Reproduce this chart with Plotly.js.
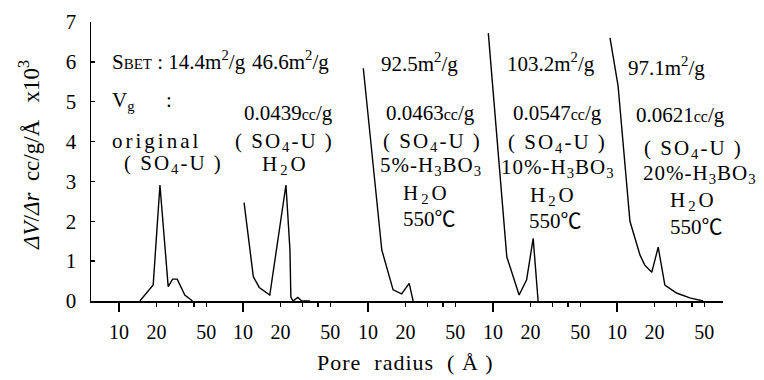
<!DOCTYPE html>
<html>
<head>
<meta charset="utf-8">
<script src="https://cdn.plot.ly/plotly-3.0.1.min.js"></script>
<style>html,body{margin:0;padding:0;background:#fff;}#chart{width:764px;height:380px;}</style>
</head>
<body>
<div id="chart"></div>
<script>
// ---- data (pore radius in Å, ΔV/Δr ×10^3 cc/g/Å) ----
const originalR   = [14.7, 18.8, 21.3, 24.8, 26.9, 29.3, 33.7, 38.9];
const originalV   = [0, 0.4, 2.91, 0.36, 0.55, 0.55, 0.15, 0];
const waterR      = [10.2, 12.1, 13.5, 16.4, 22.1, 23.8, 24.2, 25.2, 27.5, 29.6, 34.4];
const waterV      = [2.47, 0.61, 0.34, 0.15, 2.91, 1.28, 0.1, 0, 0.09, 0, 0];
const boric5R     = [9.17, 12.9, 15.9, 18.6, 21.4, 23.0];
const boric5V     = [5.84, 1.28, 0.28, 0.18, 0.44, 0];
const boric10R    = [9.17, 12.9, 16.2, 18.6, 21.0, 23.0];
const boric10V    = [6.72, 1.11, 0.15, 0.53, 1.57, 0];
const boric20R    = [8.79, 10.2, 12.7, 15.3, 16.7, 19.0, 21.4, 24.2, 30.0, 38.4, 49.0];
const boric20V    = [6.6, 5.4, 2.0, 1.15, 0.9, 0.72, 1.35, 0.4, 0.2, 0.08, 0];

const xTickVals = [10, 20, 50];
const xTickText = ['10', '20', '50'];
const xMinorVals = [30, 40];
const yTickVals = [0, 1, 2, 3, 4, 5, 6, 7];

const sBet   = ['S<span style="font-size:15px">BET</span> : 14.4m<sup>2</sup>/g', '46.6m<sup>2</sup>/g', '92.5m<sup>2</sup>/g', '103.2m<sup>2</sup>/g', '97.1m<sup>2</sup>/g'];
const vgText = ['V<sub>g</sub>      :', '0.0439<span style="font-size:16px">cc</span>/g', '0.0463<span style="font-size:16px">cc</span>/g', '0.0547<span style="font-size:16px">cc</span>/g', '0.0621<span style="font-size:16px">cc</span>/g'];
const so4 = '<span style="letter-spacing:2px">( SO<sub>4</sub>-U )</span>';
const h2o = '<span style="letter-spacing:3px">H<sub>2</sub>O</span>';
const deg = '550℃';
const boric = ['5%', '10%', '20%'].map(p => '<span style="letter-spacing:1px">' + p + '-H<sub>3</sub>BO<sub>3</sub></span>');

// ---- layout helpers ----
const FONT = 'Liberation Serif, Noto Sans CJK JP, serif';
const L = 91, R = 723, T = 22, B = 301;
const W = R - L, H = B - T;
const P10 = [119, 243, 368, 493, 617];
const BOUNDS = [91, 215, 340, 465, 589, 723];
const DEC = 124.7;

const series = [[originalR, originalV], [waterR, waterV], [boric5R, boric5V], [boric10R, boric10V], [boric20R, boric20V]];
const data = [];
const layout = {
  width: 764, height: 380,
  margin: {l: L, r: 764 - R, t: T, b: 380 - B},
  paper_bgcolor: '#fff', plot_bgcolor: '#fff',
  showlegend: false,
  font: {family: FONT, color: '#000', size: 20},
  yaxis: {
    range: [0, 7], tickmode: 'array', tickvals: yTickVals,
    ticks: 'inside', ticklen: 4, tickwidth: 1.3, tickcolor: '#000',
    showline: true, linecolor: '#000', linewidth: 1.5,
    showgrid: false, zeroline: false,
    tickfont: {family: FONT, size: 21, color: '#000'}, ticklabelstandoff: 9
  },
  annotations: []
};

for (let i = 0; i < 5; i++) {
  const id = i === 0 ? '' : String(i + 1);
  const dom = [(BOUNDS[i] - L) / W, (BOUNDS[i + 1] - L) / W];
  const rng = [1 + (BOUNDS[i] - P10[i]) / DEC, 1 + (BOUNDS[i + 1] - P10[i]) / DEC];
  layout['xaxis' + id] = {
    type: 'log', domain: dom, range: rng, anchor: 'y',
    tickmode: 'array', tickvals: xTickVals, ticktext: xTickText, tickangle: 0,
    ticks: 'outside', ticklen: 4, tickwidth: 1.3, tickcolor: '#000',
    minor: {tickmode: 'array', tickvals: xMinorVals, ticks: 'outside', ticklen: 4, tickwidth: 1.3, tickcolor: '#000', showgrid: false},
    showline: true, linecolor: '#000', linewidth: 1.5,
    showgrid: false, zeroline: false,
    tickfont: {family: FONT, size: 20, color: '#000'}, ticklabelstandoff: 8
  };
  const oid = String(i + 6);
  layout['xaxis' + oid] = {
    type: 'log', domain: dom, range: rng, anchor: 'y', overlaying: 'x' + id,
    tickmode: 'array', tickvals: [10],
    ticks: 'outside', ticklen: 10, tickwidth: 1.5, tickcolor: '#000',
    showline: false, showgrid: false, zeroline: false, showticklabels: false
  };
  data.push({
    x: series[i][0], y: series[i][1], xaxis: 'x' + id, yaxis: 'y',
    type: 'scatter', mode: 'lines', line: {color: '#000', width: 1.4},
    hoverinfo: 'skip'
  });
  data.push({x: [], y: [], xaxis: 'x' + oid, yaxis: 'y', type: 'scatter', mode: 'lines', hoverinfo: 'skip'});
}

function ann(text, px, py, anchor, size, extra) {
  const a = Object.assign({
    text: text, xref: 'paper', yref: 'paper',
    x: (px - L) / W, y: (B - py) / H,
    xanchor: anchor || 'center', yanchor: 'middle',
    showarrow: false, font: {family: FONT, size: size || 21, color: '#000'}
  }, extra || {});
  layout.annotations.push(a);
}

// panel 1
ann(sBet[0], 110, 61, 'left');
ann(vgText[0], 110, 101, 'left');
ann('<span style="letter-spacing:3px">original</span>', 110, 141, 'left');
ann(so4, 173, 164);
// panel 2
ann(sBet[1], 250, 61, 'left');
ann(vgText[1], 288, 113);
ann(so4, 284, 142);
ann(h2o, 285, 165);
// panel 3
ann(sBet[2], 419, 62);
ann(vgText[2], 430, 113);
ann(so4, 432, 142);
ann(boric[0], 431, 166);
ann(h2o, 427, 194);
ann(deg, 429, 219);
// panel 4
ann(sBet[3], 551, 62);
ann(vgText[3], 557, 113);
ann(so4, 557, 143);
ann(boric[1], 558, 168);
ann(h2o, 553, 196);
ann(deg, 555, 221);
// panel 5
ann(sBet[4], 666, 66);
ann(vgText[4], 680, 115);
ann(so4, 693, 149);
ann(boric[2], 700, 174);
ann(h2o, 693, 201);
ann(deg, 696, 227);

// axis titles
ann('<span style="letter-spacing:1px">Pore  radius  ( Å )</span>', 405, 362, 'center', 22);
ann('<i>ΔV</i>/<i>Δr</i>  cc/g/Å   x10<sup>3</sup>', 30, 155, 'center', 23, {textangle: -90});

Plotly.newPlot('chart', data, layout, {staticPlot: true, displayModeBar: false});
</script>
</body>
</html>
